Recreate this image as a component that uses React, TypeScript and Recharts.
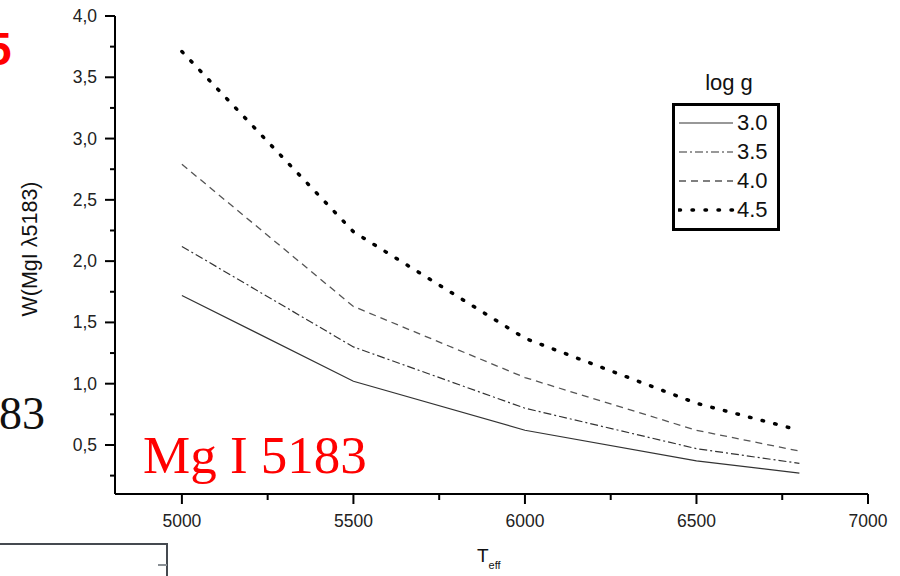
import React from 'react';
import { LineChart, Line, XAxis, YAxis, Legend, Label } from 'recharts';

const temps = [5000, 5500, 6000, 6500, 6800];
const w30 = [1.72, 1.02, 0.62, 0.37, 0.27];
const w35 = [2.12, 1.3, 0.8, 0.47, 0.35];
const w40 = [2.79, 1.63, 1.05, 0.62, 0.45];
const w45 = [3.71, 2.24, 1.37, 0.84, 0.62];
const seriesNames = ['3.0', '3.5', '4.0', '4.5'];

const xTicks = [5000, 5250, 5500, 5750, 6000, 6250, 6500, 6750, 7000];
const xMajor = [5000, 5500, 6000, 6500, 7000];
const yTicks = [0.25, 0.5, 0.75, 1.0, 1.25, 1.5, 1.75, 2.0, 2.25, 2.5, 2.75, 3.0, 3.25, 3.5, 3.75, 4.0];
const yMajor = [0.5, 1.0, 1.5, 2.0, 2.5, 3.0, 3.5, 4.0];

const data = temps.map((t, i) => ({ t, s30: w30[i], s35: w35[i], s40: w40[i], s45: w45[i] }));

const seriesStyle = [
  { key: 's30', stroke: '#333', dash: undefined as string | undefined, width: 1.2, cap: 'butt' },
  { key: 's35', stroke: '#333', dash: '8 3 2 3', width: 1.2, cap: 'butt' },
  { key: 's40', stroke: '#555', dash: '7 5', width: 1.3, cap: 'butt' },
  { key: 's45', stroke: '#000', dash: '1.5 11.5', width: 3.5, cap: 'round' },
];

const FONT = 'Liberation Sans, Arial, sans-serif';

const YTick = (props: any) => {
  const { y, payload } = props;
  const major = yMajor.some((v) => Math.abs(v - payload.value) < 1e-6);
  const ax = 115;
  return (
    <g>
      <line x1={ax - (major ? 10 : 5)} x2={ax} y1={y} y2={y} stroke="#000" strokeWidth={2} />
      {major && (
        <text x={ax - 18} y={y} dy={6} textAnchor="end" fontSize={17.5} fontFamily={FONT} fill="#222">
          {payload.value.toFixed(1).replace('.', ',')}
        </text>
      )}
    </g>
  );
};

const XTick = (props: any) => {
  const { x, payload } = props;
  const major = xMajor.includes(payload.value);
  const ay = 494;
  return (
    <g>
      <line x1={x} x2={x} y1={ay} y2={ay + (major ? 10 : 6)} stroke="#000" strokeWidth={2} />
      {major && (
        <text x={x} y={ay + 33} textAnchor="middle" fontSize={17.5} fontFamily={FONT} fill="#222">
          {payload.value}
        </text>
      )}
    </g>
  );
};

const LegendBox = () => (
  <div style={{ position: 'relative', width: 150, height: 170, fontFamily: FONT }}>
    <div style={{ position: 'absolute', left: 0, top: 0, width: 114, textAlign: 'center', fontSize: 22, color: '#111', lineHeight: '26px' }}>log g</div>
    <div style={{ position: 'absolute', left: 0, top: 33, width: 102, height: 122, border: '3px solid #000', background: '#fff' }}>
      {seriesNames.map((n, i) => {
        const s = seriesStyle[i];
        return (
          <div key={n} style={{ position: 'absolute', left: 3, top: 4 + i * 29, height: 28, width: 100 }}>
            <svg width={58} height={28} style={{ position: 'absolute', left: 0, top: 0 }}>
              <line x1={1} x2={55} y1={13} y2={13} stroke={s.stroke} strokeWidth={s.width}
                strokeDasharray={s.dash} strokeLinecap={s.cap as any} />
            </svg>
            <span style={{ position: 'absolute', left: 59, top: 0, fontSize: 22, color: '#111', lineHeight: '26px' }}>{n}</span>
          </div>
        );
      })}
    </div>
  </div>
);

export default function App() {
  return (
    <div style={{ position: 'absolute', left: 0, top: 0, width: 900, height: 576, overflow: 'hidden', background: '#fff' }}>
      <LineChart width={900} height={576} data={data} margin={{ top: 16, right: 32, bottom: 52, left: 55 }}>
        <XAxis
          dataKey="t"
          type="number"
          domain={[4805, 7000]}
          ticks={xTicks}
          tick={<XTick />}
          tickLine={false}
          axisLine={{ stroke: '#000', strokeWidth: 2 }}
          height={30}
          allowDataOverflow
        >
          <Label
            content={() => (
              <text x={477} y={562} fontFamily={FONT} fill="#111">
                <tspan fontSize={19}>T</tspan>
                <tspan fontSize={11} dy={7}>eff</tspan>
              </text>
            )}
          />
        </XAxis>
        <YAxis
          type="number"
          domain={[0.1, 4.0]}
          ticks={yTicks}
          tick={<YTick />}
          tickLine={false}
          axisLine={{ stroke: '#000', strokeWidth: 2 }}
          width={60}
          allowDataOverflow
        >
          <Label
            content={() => (
              <text x={37} y={249} transform="rotate(-90 37 249)" textAnchor="middle" fontSize={21.5} fontFamily={FONT} fill="#111">
                W(MgI λ5183)
              </text>
            )}
          />
        </YAxis>
        <Legend
          verticalAlign="middle"
          align="center"
          content={() => <LegendBox />}
          wrapperStyle={{ position: 'absolute', left: 672, top: 70, width: 150 }}
        />
        {seriesStyle.map((s, i) => (
          <Line
            key={s.key}
            dataKey={s.key}
            name={seriesNames[i]}
            stroke={s.stroke}
            strokeWidth={s.width}
            strokeDasharray={s.dash}
            strokeLinecap={s.cap as any}
            dot={false}
            activeDot={false}
            type="linear"
            isAnimationActive={false}
          />
        ))}
      </LineChart>
      <div style={{ position: 'absolute', left: -14, top: 26, fontSize: 46, fontWeight: 'bold', color: '#f00', fontFamily: FONT, lineHeight: 1 }}>5</div>
      <div style={{ position: 'absolute', left: -1, top: 391, fontSize: 46, color: '#111', fontFamily: 'Liberation Serif, Times New Roman, serif', lineHeight: 1 }}>83</div>
      <div style={{ position: 'absolute', left: 143, top: 429, fontSize: 53, color: '#f00', fontFamily: 'Liberation Serif, Times New Roman, serif', lineHeight: 1, whiteSpace: 'nowrap' }}>Mg I 5183</div>
      <div style={{ position: 'absolute', left: -2, top: 543, width: 168, height: 40, borderTop: '2px solid #454a50', borderRight: '2px solid #454a50' }} />
      <div style={{ position: 'absolute', left: 158, top: 564, width: 9, height: 0, borderTop: '2px solid #8a9095' }} />
    </div>
  );
}
